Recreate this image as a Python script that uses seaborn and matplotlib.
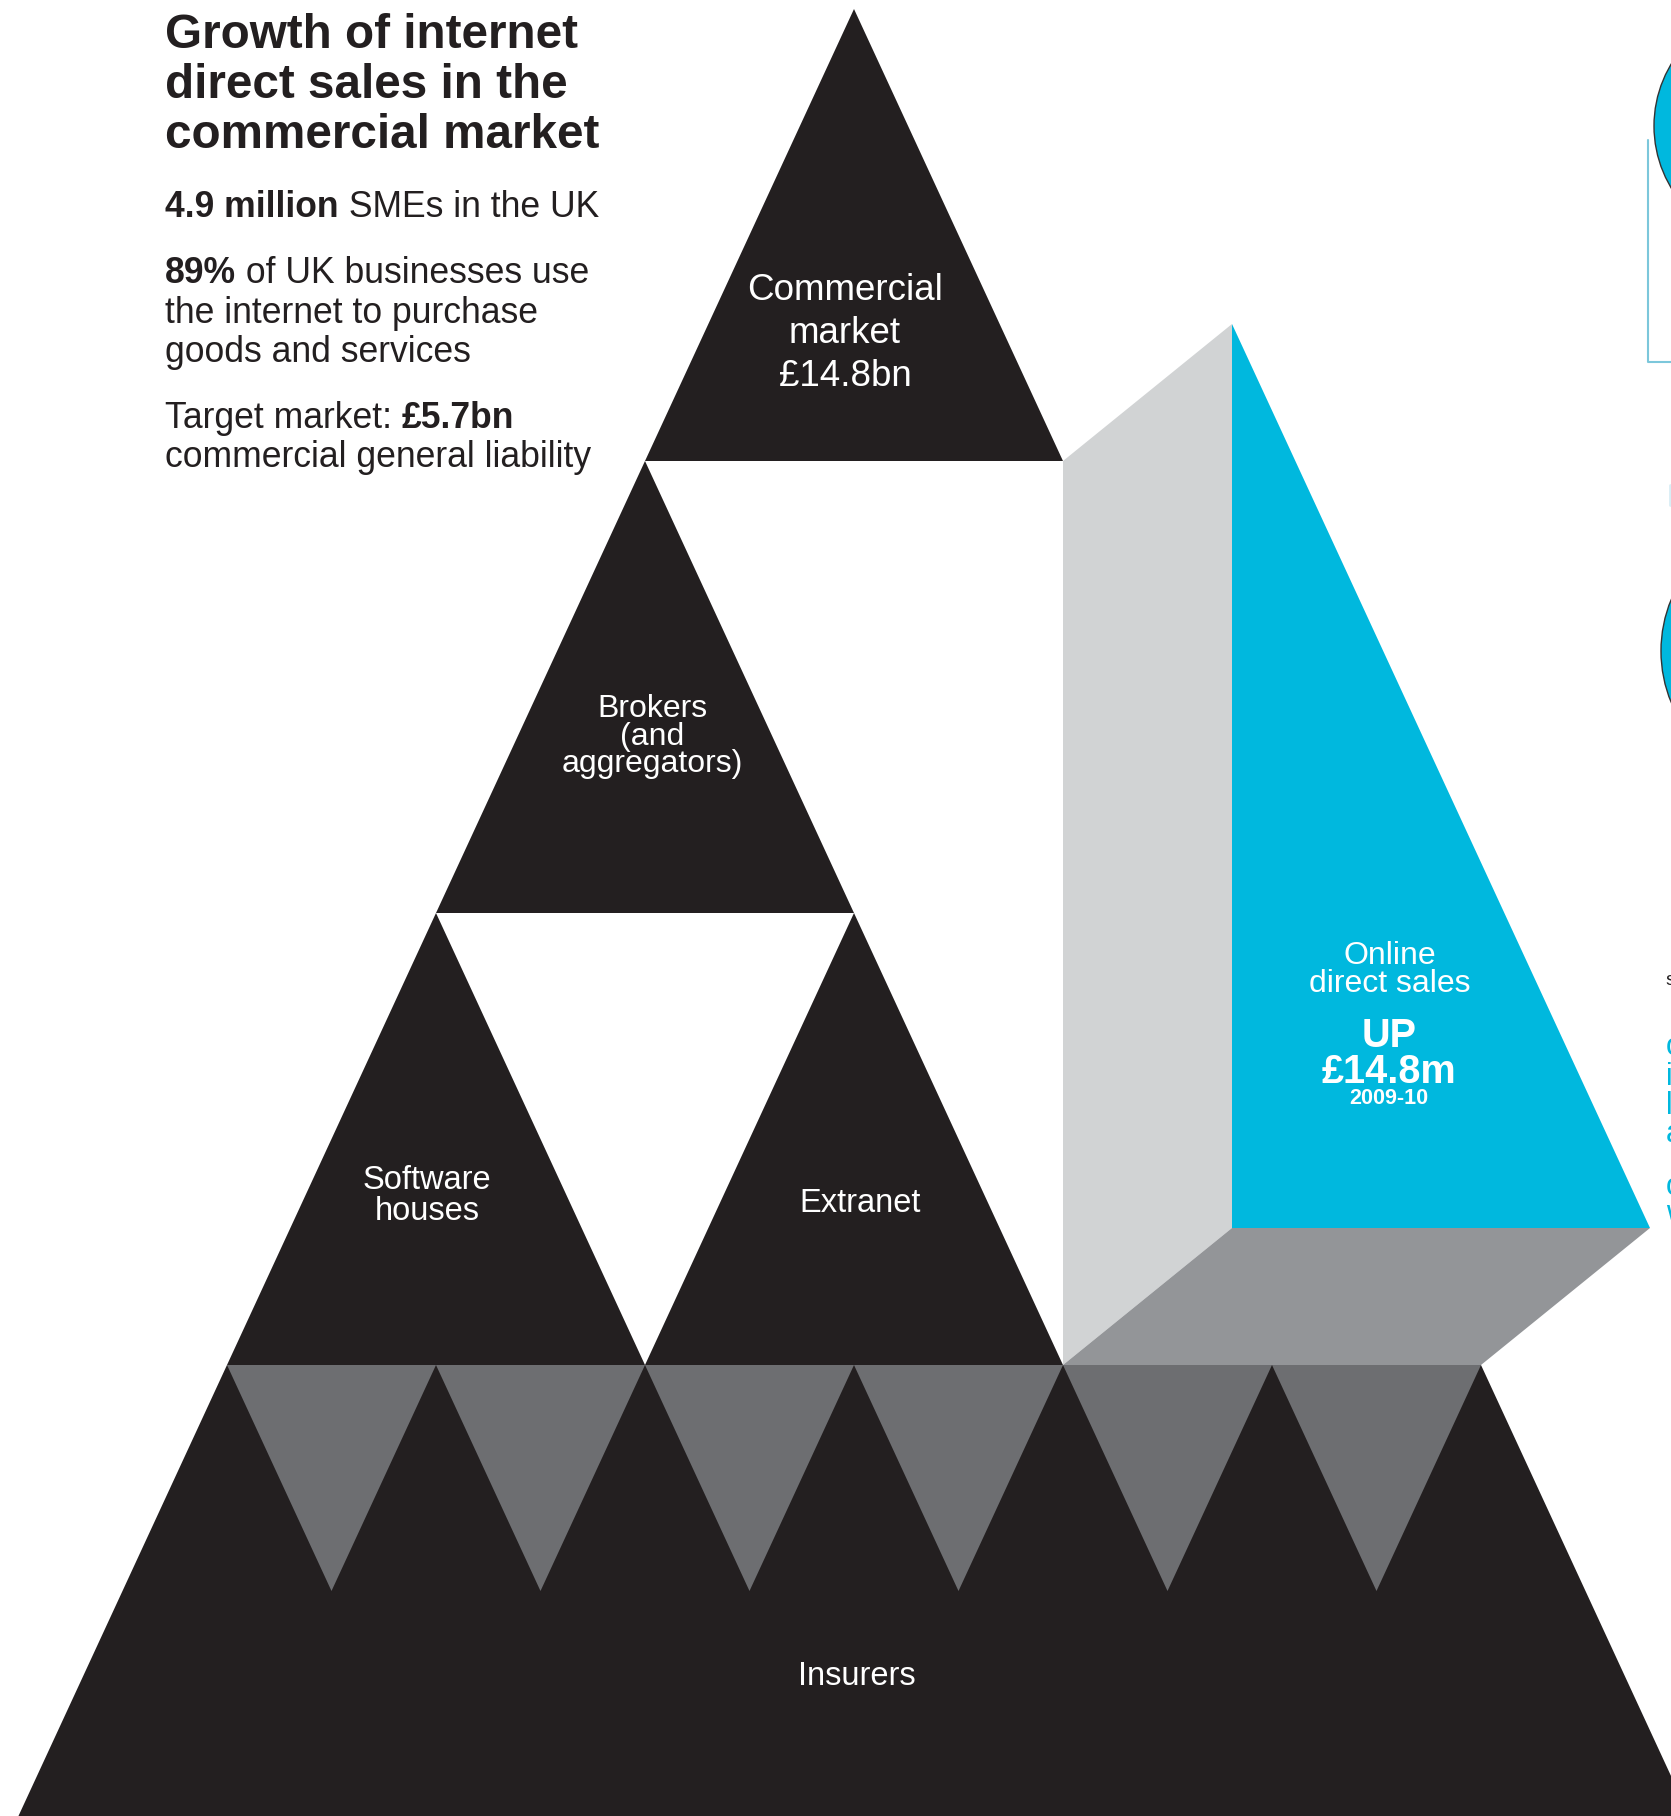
import matplotlib
matplotlib.use("Agg")
import matplotlib.pyplot as plt
import seaborn as sns
from matplotlib.patches import Polygon, Circle

# text / figures shown in the infographic
title_lines = ["Growth of internet", "direct sales in the", "commercial market"]
sme_count = "4.9 million"
internet_pct = "89%"
target_market = "£5.7bn"
market_size = "£14.8bn"
online_growth = "£14.8m"
growth_period = "2009-10"
channels = ["Brokers\n(and\naggregators)", "Software\nhouses", "Extranet", "Insurers"]

BLACK = "#231f20"
CYAN = "#00b8de"
LIGHT = "#d1d3d4"
MID = "#939598"
DARK = "#6d6e71"
FONT = "Liberation Sans"

sns.set_style("white")
plt.rcParams["font.family"] = [FONT, "DejaVu Sans"]

fig = plt.figure(figsize=(16.71, 18.16), dpi=100)
ax = fig.add_axes([0, 0, 1, 1])
ax.set_xlim(0, 1671)
ax.set_ylim(1816, 0)
ax.axis("off")

# triangle grid
apex_x, top_y = 854, 9
hw, h = 209, 452


def tri(ax_x, row, color):
    y0 = top_y + row * h
    ax.add_patch(Polygon([(ax_x, y0), (ax_x - hw, y0 + h), (ax_x + hw, y0 + h)],
                         closed=True, color=color, lw=0))


tri(apex_x, 0, BLACK)
tri(apex_x - hw, 1, BLACK)
tri(apex_x - 2 * hw, 2, BLACK)
tri(apex_x, 2, BLACK)

# base band (insurers)
y3 = top_y + 3 * h
left3 = apex_x - 3 * hw
ax.add_patch(Polygon([(left3, y3), (left3 + 6 * hw, y3), (left3 + 7 * hw, y3 + h),
                      (left3 - hw, y3 + h)], closed=True, color=BLACK, lw=0))
for i in range(6):
    xl = left3 + i * hw
    ax.add_patch(Polygon([(xl, y3), (xl + hw, y3), (xl + hw / 2, y3 + h / 2)],
                         closed=True, color=DARK, lw=0))

# 3d block
dx, dy = 169, 137
bx = apex_x + hw
ax.add_patch(Polygon([(bx, top_y + h), (bx + dx, top_y + h - dy), (bx + dx, y3 - dy), (bx, y3)],
                     closed=True, color=LIGHT, lw=0))
ax.add_patch(Polygon([(bx + dx, top_y + h - dy), (bx + dx, y3 - dy), (bx + dx + 2 * hw, y3 - dy)],
                     closed=True, color=CYAN, lw=0))
ax.add_patch(Polygon([(bx, y3), (bx + dx, y3 - dy), (bx + dx + 2 * hw, y3 - dy), (bx + 2 * hw, y3)],
                     closed=True, color=MID, lw=0))

# edge of neighbouring page
ax.add_patch(Circle((1774, 126), 120, facecolor=CYAN, edgecolor="#333333", lw=1))
ax.add_patch(Circle((1796, 651), 135, facecolor=CYAN, edgecolor="#333333", lw=1))
ax.plot([1648, 1648, 1680], [140, 362, 362], color="#7cc7db", lw=1.5)
ax.plot([1670, 1670], [485, 505], color="#d8eef5", lw=2)
ax.text(1665, 985, "s", color=BLACK, fontsize=14, va="baseline")
for yy, s in zip([1055, 1085, 1114, 1142, 1195, 1222], ["o", "i", "l", "a", "o", "w"]):
    ax.text(1666, yy, s, color=CYAN, fontsize=22, va="baseline")


def mixed(x, y, parts, size, color=BLACK):
    t = None
    for txt, bold in parts:
        w = "bold" if bold else "normal"
        if t is None:
            t = ax.text(x, y, txt, fontsize=size, fontweight=w, color=color, va="baseline")
        else:
            # following parts share the baseline of the previous one
            t = ax.annotate(txt, xy=(1, 0), xycoords=t, fontsize=size, fontweight=w,
                            color=color, va="bottom", ha="left")
    return t


# title and stats
for yy, line in zip([48, 98, 148], title_lines):
    ax.text(165, yy, line, fontsize=34.3, fontweight="bold", color=BLACK, va="baseline")

body = 25.6
mixed(165, 217, [(sme_count, True), (" SMEs in the UK", False)], body)
mixed(165, 283, [(internet_pct, True), (" of UK businesses use", False)], body)
ax.text(165, 323, "the internet to purchase", fontsize=body, color=BLACK, va="baseline")
ax.text(165, 362, "goods and services", fontsize=body, color=BLACK, va="baseline")
mixed(165, 428, [("Target market: ", False), (target_market, True)], body)
ax.text(165, 467, "commercial general liability", fontsize=body, color=BLACK, va="baseline")


def stack(x, ys, lines, size, weight="normal"):
    for yy, line in zip(ys, lines):
        ax.text(x, yy, line, fontsize=size, fontweight=weight, color="white",
                ha="center", va="baseline")


stack(845, [300, 343, 386], ["Commercial", "market", market_size], 26.5)
stack(652, [717, 745, 772], channels[0].split("\n"), 23)
stack(427, [1189, 1220], channels[1].split("\n"), 23.5)
stack(860, [1212], [channels[2]], 23.5)
stack(857, [1685], [channels[3]], 23.5)

stack(1390, [964, 992], ["Online", "direct sales"], 23)
stack(1389, [1047, 1083], ["UP", online_growth], 28.5, "bold")
stack(1389, [1104], [growth_period], 15.5, "bold")

fig.savefig("out.png", dpi=100, facecolor="white")
